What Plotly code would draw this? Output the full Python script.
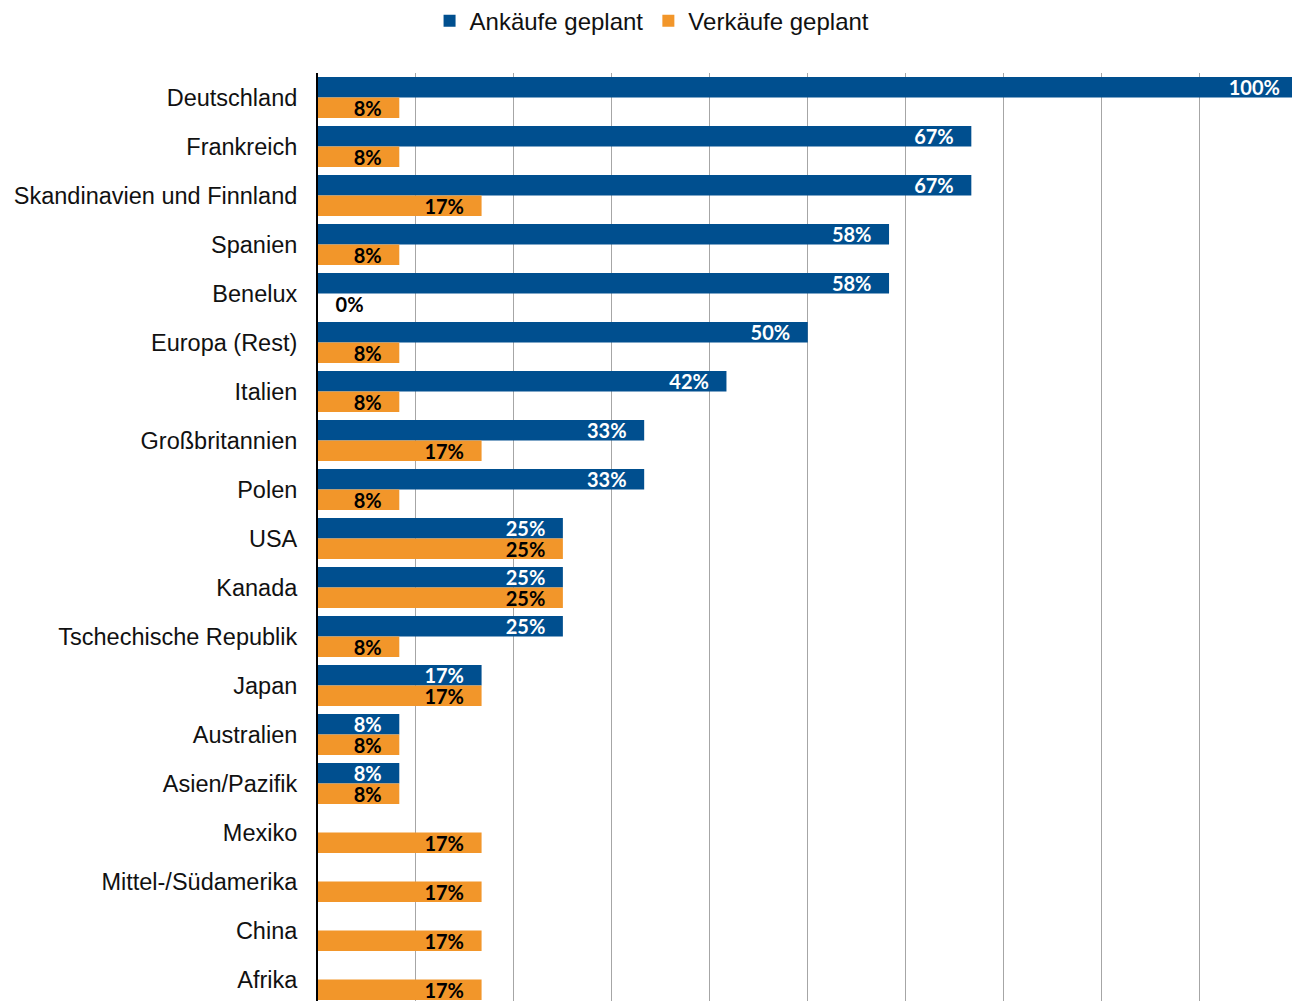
import plotly.graph_objects as go

categories = ["Deutschland", "Frankreich", "Skandinavien und Finnland", "Spanien", "Benelux",
              "Europa (Rest)", "Italien", "Großbritannien", "Polen", "USA", "Kanada",
              "Tschechische Republik", "Japan", "Australien", "Asien/Pazifik", "Mexiko",
              "Mittel-/Südamerika", "China", "Afrika"]
ankaeufe = [100, 66.7, 66.7, 58.3, 58.3, 50, 41.7, 33.3, 33.3, 25, 25, 25, 16.7, 8.3, 8.3, 0, 0, 0, 0]
verkaeufe = [8.3, 8.3, 16.7, 8.3, 0, 8.3, 8.3, 16.7, 8.3, 25, 25, 8.3, 16.7, 8.3, 8.3, 16.7, 16.7, 16.7, 16.7]

BLUE = "#004F8F"
ORANGE = "#F2962A"
PAD = "\u00a0\u00a0\u00a0"

def labels(vals, zero_label):
    txt, pos = [], []
    for v in vals:
        if v == 0:
            txt.append(PAD + "0%" if zero_label else "")
            pos.append("outside")
        else:
            txt.append(f"{round(v)}%" + PAD)
            pos.append("inside")
    return txt, pos

t1, p1 = labels(ankaeufe, False)
t2, p2 = labels(verkaeufe, True)

LBL = dict(family="Lato", size=20, weight="bold")

fig = go.Figure()
fig.add_trace(go.Bar(
    y=categories, x=ankaeufe, orientation="h", name="Ankäufe geplant",
    marker=dict(color=BLUE, line=dict(width=0)),
    text=t1, textposition=p1, insidetextanchor="end", constraintext="none",
    textfont=dict(**LBL, color="white"),
    cliponaxis=False,
))
fig.add_trace(go.Bar(
    y=categories, x=verkaeufe, orientation="h", name="Verkäufe geplant",
    marker=dict(color=ORANGE, line=dict(width=0)),
    text=t2, textposition=p2, insidetextanchor="end", constraintext="none",
    textfont=dict(**LBL, color="black"),
    outsidetextfont=dict(**LBL, color="black"),
    cliponaxis=False,
))

# page body has an 8px default margin; figure is offset accordingly
fig.update_layout(
    width=1292, height=993,
    margin=dict(l=310, r=2, t=65, b=0, autoexpand=False),
    barmode="group", bargap=0.16, bargroupgap=0.0,
    plot_bgcolor="white", paper_bgcolor="white",
    font=dict(family="Liberation Sans, Arial", size=24, color="#111111"),
    legend=dict(orientation="h", xref="container", yref="paper",
                x=0.4985, xanchor="center", y=1.056, yanchor="middle",
                font=dict(family="Liberation Sans, Arial", size=24, color="#111111"),
                itemwidth=30, traceorder="normal"),
    xaxis=dict(range=[0, 100.05], dtick=10, showgrid=True, gridcolor="#A6A6A6", gridwidth=1,
               showticklabels=False, zeroline=False, showline=False, fixedrange=True,
               automargin=False),
    yaxis=dict(categoryorder="array", categoryarray=categories,
               range=[18.44, -0.5], showgrid=False, showline=True, linecolor="black",
               linewidth=2, ticks="", ticklabelstandoff=14, zeroline=False, automargin=False,
               tickfont=dict(family="Liberation Sans, Arial", size=23.5, color="#111111")),
    showlegend=True,
)

fig.write_html("out.html")
